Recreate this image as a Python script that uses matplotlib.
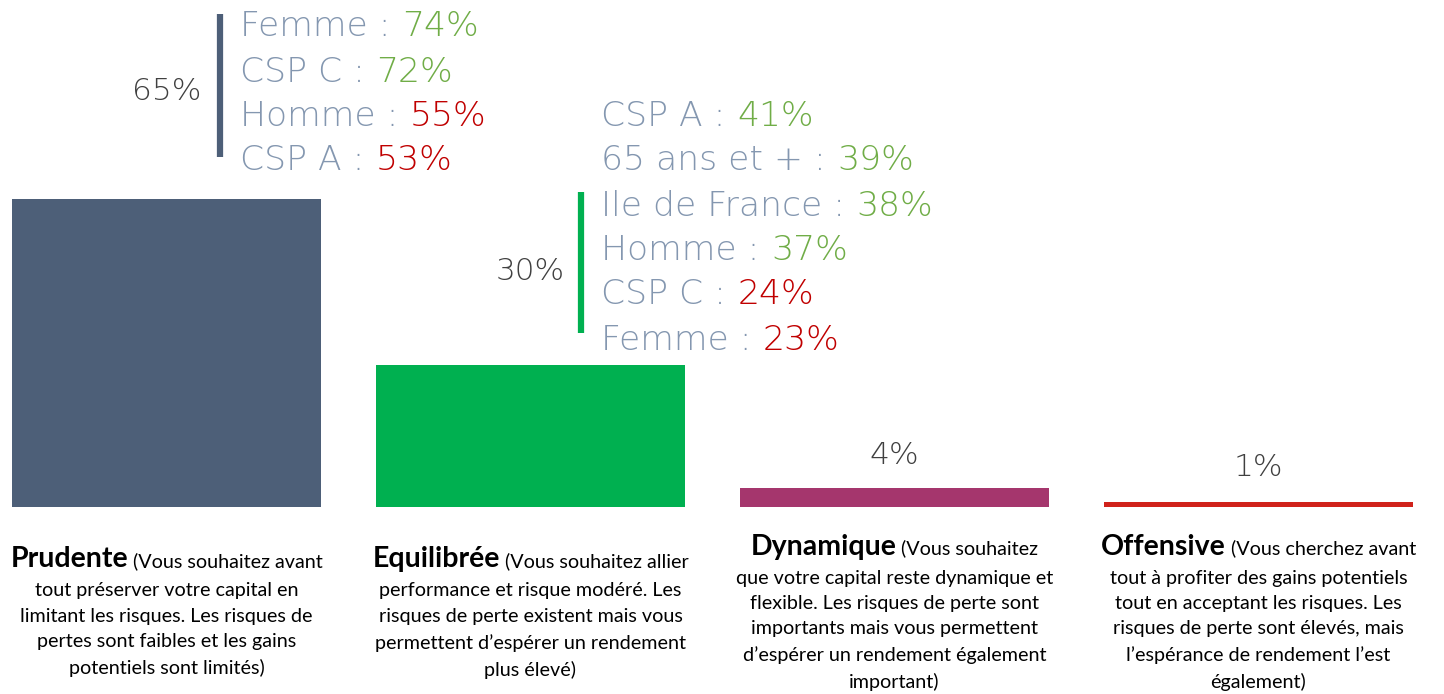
import matplotlib
matplotlib.use("Agg")
import matplotlib.pyplot as plt

# data
categories = ["Prudente", "Equilibrée", "Dynamique", "Offensive"]
values = [65, 30, 4, 1]
descriptions = [
    [" (Vous souhaitez avant",
     "tout préserver votre capital en\nlimitant les risques. Les risques de\npertes sont faibles et les gains\npotentiels sont limités)"],
    [" (Vous souhaitez allier",
     "performance et risque modéré. Les\nrisques de perte existent mais vous\npermettent d\u2019espérer un rendement\nplus élevé)"],
    [" (Vous souhaitez",
     "que votre capital reste dynamique et\nflexible. Les risques de perte sont\nimportants mais vous permettent\nd\u2019espérer un rendement également\nimportant)"],
    [" (Vous cherchez avant",
     "tout à profiter des gains potentiels\ntout en acceptant les risques. Les\nrisques de perte sont élevés, mais\nl\u2019espérance de rendement l\u2019est\négalement)"],
]

prudente_groups = ["Femme", "CSP C", "Homme", "CSP A"]
prudente_scores = [74, 72, 55, 53]
equilibree_groups = ["CSP A", "65 ans et +", "Ile de France", "Homme", "CSP C", "Femme"]
equilibree_scores = [41, 39, 38, 37, 24, 23]

bar_colors = ["#4D5F78", "#00B050", "#A5366D", "#D0221B"]
GREY_LABEL = "#8497B0"
GREEN = "#70AD47"
RED = "#C00000"
DARK = "#404040"

# layout: 1444x694 px, 364 px between bar centres, 4.74 px per percent
PX_X = 364.0
PX_Y = 4.74
BASE_PX = 507  # pixel row of the bars' base
LINE_PX = 25.7  # description line pitch

fig = plt.figure(figsize=(14.44, 6.94), dpi=100)
ax = fig.add_axes([0, 0, 1, 1])
ax.set_xlim(-166.5 / PX_X, (1444 - 166.5) / PX_X)
ax.set_ylim(-(694 - BASE_PX) / PX_Y, BASE_PX / PX_Y)
ax.axis("off")


def py(p):
    """pixel row (from top) -> data y"""
    return (BASE_PX - p) / PX_Y


x = list(range(len(categories)))
ax.bar(x, values, width=309 / PX_X, color=bar_colors)

# value labels
label_rows = [92, 272, 455, 468]
for i, v in enumerate(values):
    ax.text(i, py(label_rows[i]), f"{v}%", ha="center", va="center",
            fontsize=22.5, color=DARK, fontfamily="DejaVu Sans", fontweight="light")


def breakdown(xc, groups, scores, overall, rows, line_span, color):
    lx = xc + 54 / PX_X
    ax.plot([lx, lx], [py(line_span[0]), py(line_span[1])], color=color,
            lw=4.5, solid_capstyle="butt")
    for g, s, r in zip(groups, scores, rows):
        t = ax.text(lx + 20 / PX_X, py(r + 3), f"{g} : ", ha="left", va="center",
                    fontsize=24.8, color=GREY_LABEL, fontfamily="DejaVu Sans",
                    fontweight="light")
        ax.annotate(f"{s}%", xy=(1, 0.5), xycoords=t, ha="left", va="center",
                    fontsize=24.8, color=GREEN if s > overall else RED,
                    fontfamily="DejaVu Sans", fontweight="light")


breakdown(0, prudente_groups, prudente_scores, values[0],
          [24, 69, 113, 158], (14, 157), bar_colors[0])
breakdown(1 - 3 / PX_X, equilibree_groups, equilibree_scores, values[1],
          [113, 158, 204, 248, 292, 337], (192, 333), bar_colors[1])

# category descriptions under the bars, each block centred around row 614
fig.canvas.draw()
r = fig.canvas.get_renderer()
inv = ax.transData.inverted()
for i, cat in enumerate(categories):
    first, rest = descriptions[i]
    n = rest.count("\n") + 1
    title_row = 614 - (34 + (n - 1) * LINE_PX) / 2
    t1 = ax.text(i, py(title_row + 9), cat, ha="left", va="baseline", fontsize=20.5,
                 fontweight="bold", fontfamily="Lato", color="black")
    t2 = ax.text(i, py(title_row + 9), first, ha="left", va="baseline", fontsize=14.2,
                 fontfamily="Lato", color="black")
    w1 = t1.get_window_extent(r).width
    w2 = t2.get_window_extent(r).width
    cx = ax.transData.transform((i, 0))[0]
    start = cx - (w1 + w2) / 2
    t1.set_x(inv.transform((start, 0))[0])
    t2.set_x(inv.transform((start + w1, 0))[0])
    ax.text(i, py(title_row + 24), rest, ha="center", va="top", fontsize=14.2,
            fontfamily="Lato", color="black", linespacing=1.6)

fig.savefig("out.png", dpi=100)
